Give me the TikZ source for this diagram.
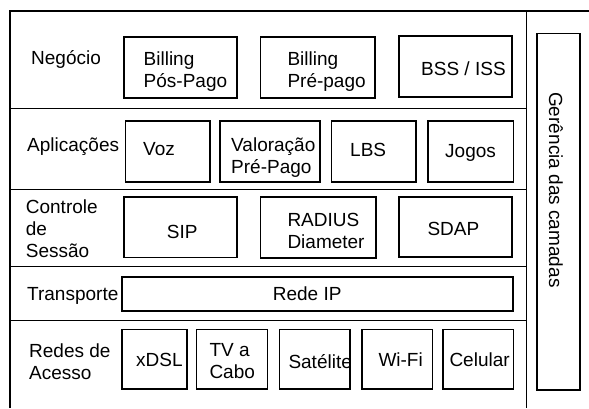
\documentclass[tikz,border=0pt]{standalone}
\usepackage{fontspec}
\setmainfont{Liberation Sans}
\newcommand\mlines[1]{\begin{tabular}[t]{@{}l@{}}#1\end{tabular}}
\begin{document}
\begin{tikzpicture}[x=1pt,y=-1pt,
  box/.style={draw, line width=1.6pt, inner sep=0pt, anchor=center},
  txt/.style={inner sep=0pt, anchor=base west, font=\fontsize{19}{22}\selectfont},
  frame/.style={line width=2pt},
  sep/.style={line width=0.9pt}]
\useasboundingbox (0,0) rectangle (589,408);
% frame
\coordinate (fbl) at (10,408);
\coordinate (ftl) at (10,11);
\coordinate (ftr) at (589,11);
\draw[frame] (fbl) -- (ftl) -- (ftr);
% separators
\coordinate (vt) at (526,11);
\coordinate (vb) at (526,408);
\draw[sep] (vt) -- (vb);
\foreach \yy/\nm in {108.7/s1,189.3/s2,266.7/s3,320/s4}{
  \coordinate (\nm l) at (10,\yy);
  \coordinate (\nm r) at (526,\yy);
  \draw[sep] (\nm l) -- (\nm r);
}
% row 1
\node[txt] (lneg) at (31,64) {Negócio};
\node[box, minimum width=113pt, minimum height=60.7pt] (bpp) at (180.2,67.35) {};
\node[box, minimum width=114.7pt, minimum height=60.7pt] (bpr) at (317.65,67.35) {};
\node[box, minimum width=113pt, minimum height=60.7pt] (bss) at (455.2,66.35) {};
\node[txt] (tbpp) at (143.5,65) {\mlines{Billing\\Pós-Pago}};
\node[txt] (tbpr) at (287.3,65) {\mlines{Billing\\Pré-pago}};
\node[txt] (tbss) at (421,75) {BSS / ISS};
% row 2
\node[txt] (lapl) at (27,151) {Aplicações};
\node[box, minimum width=84.7pt, minimum height=60.7pt] (voz) at (167.65,151.35) {};
\node[box, minimum width=100pt, minimum height=60.7pt] (val) at (270,151.35) {};
\node[box, minimum width=84.4pt, minimum height=60.7pt] (lbs) at (373.5,151.35) {};
\node[box, minimum width=85.3pt, minimum height=60.7pt] (jog) at (470.65,151.35) {};
\node[txt] (tvoz) at (143,155) {Voz};
\node[txt] (tval) at (231,151) {\mlines{Valoração\\Pré-Pago}};
\node[txt] (tlbs) at (350,156) {LBS};
\node[txt] (tjog) at (445,157) {Jogos};
% row 3
\node[txt] (lctl) at (25.7,213) {\mlines{Controle\\de\\Sessão}};
\node[box, minimum width=113pt, minimum height=60.3pt] (sip) at (180.2,227.15) {};
\node[box, minimum width=115.4pt, minimum height=61pt] (rad) at (318,227.5) {};
\node[box, minimum width=113pt, minimum height=60pt] (sdap) at (455.2,227) {};
\node[txt] (tsip) at (166.7,238) {SIP};
\node[txt] (trad) at (287.3,226) {\mlines{RADIUS\\Diameter}};
\node[txt] (tsdap) at (427.3,235.7) {SDAP};
% row 4
\node[txt] (ltra) at (27,300.5) {Transporte};
\node[box, minimum width=391.3pt, minimum height=33.7pt] (ip) at (317.35,293.85) {};
\node[txt] (tip) at (272.7,300.5) {Rede IP};
% row 5
\node[txt] (lred) at (29,357) {\mlines{Redes de\\Acesso}};
\node[box, minimum width=64.7pt, minimum height=59.7pt] (xdsl) at (154.35,359.15) {};
\node[box, minimum width=71pt, minimum height=59.7pt] (tv) at (231.8,359.15) {};
\node[box, minimum width=70.7pt, minimum height=59.7pt] (sat) at (314.65,359.15) {};
\node[box, minimum width=70.6pt, minimum height=59.7pt] (wifi) at (397,359.15) {};
\node[box, minimum width=70.6pt, minimum height=59.7pt] (cel) at (478,359.15) {};
\node[txt] (txdsl) at (136,366.7) {xDSL};
\node[txt] (ttv) at (209.3,356.7) {\mlines{TV a\\Cabo}};
\node[txt] (tsat) at (288.3,368.3) {Satélite};
\node[txt] (twifi) at (378.3,366) {Wi-Fi};
\node[txt] (tcel) at (449.3,366) {Celular};
% management
\node[box, minimum width=43.3pt, minimum height=356.7pt] (ger) at (558.35,211.65) {};
\node[txt, rotate=-90] (tger) at (549,92) {Gerência das camadas};
\end{tikzpicture}
\end{document}
